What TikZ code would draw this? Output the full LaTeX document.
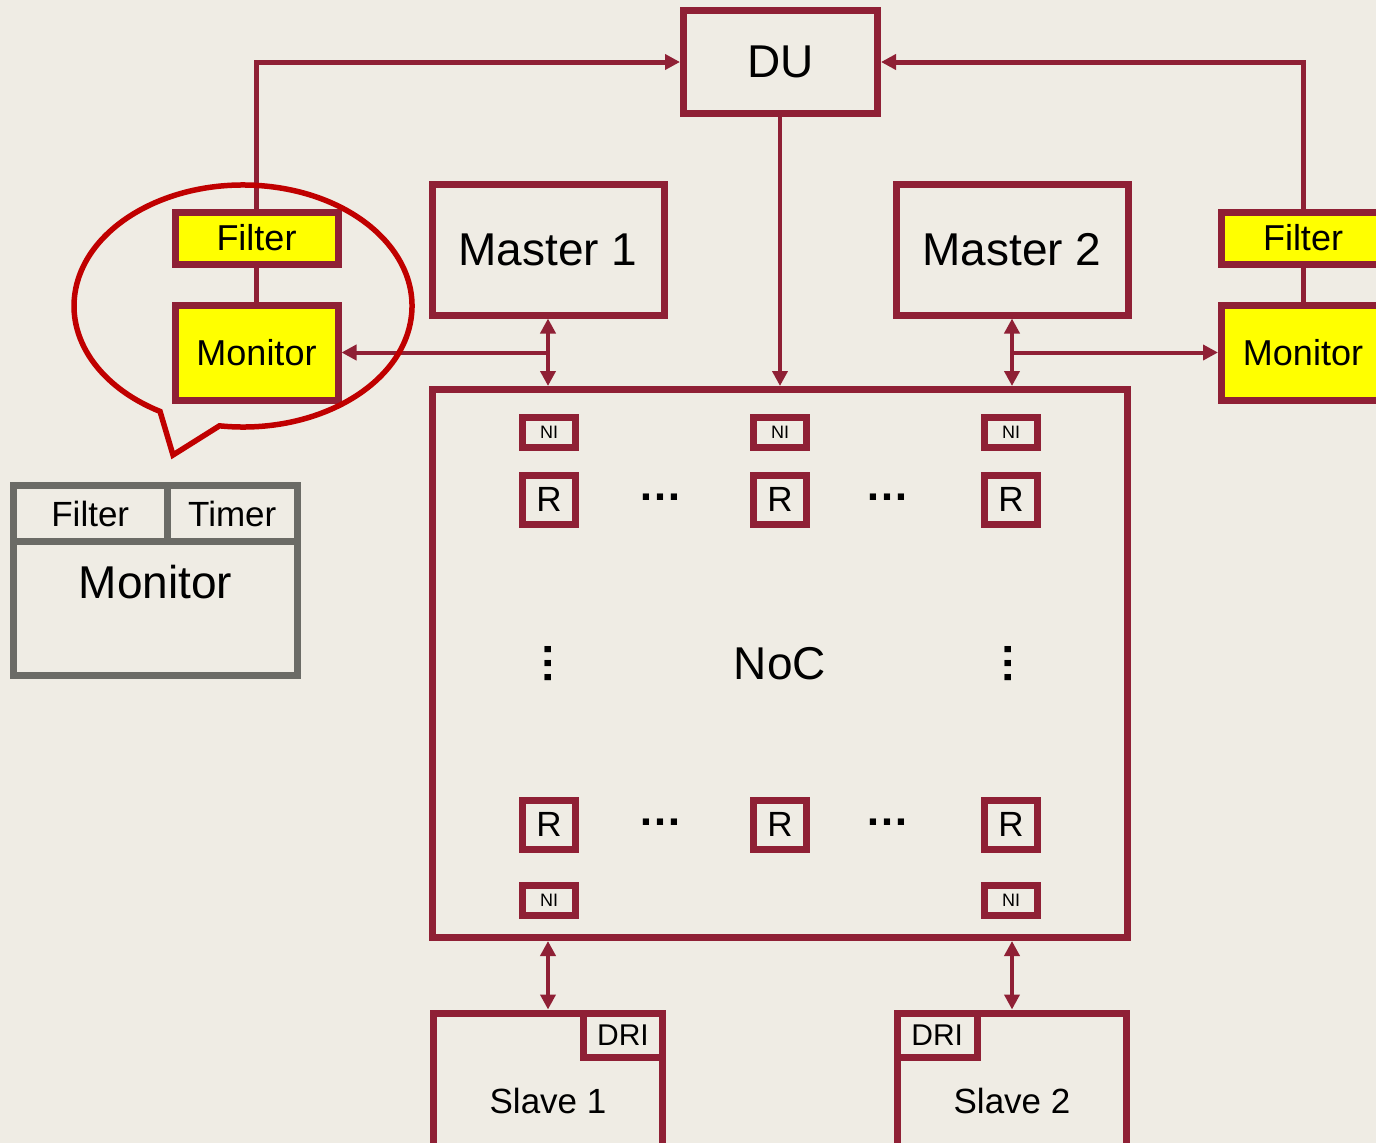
\documentclass[tikz,border=0pt]{standalone}
\usepackage{fontspec}
\setmainfont{Liberation Sans}
\usetikzlibrary{arrows.meta,calc}
\definecolor{bg}{HTML}{EFECE4}
\definecolor{wine}{HTML}{8F2035}
\definecolor{callred}{HTML}{C00000}
\definecolor{slate}{HTML}{6B6B66}
\definecolor{hl}{HTML}{FFFF00}
\newcommand\fsz[1]{\fontsize{#1}{#1}\selectfont}
\begin{document}
\begin{tikzpicture}[x=1pt,y=-1pt,
  box/.style={draw=wine, line width=7pt, rectangle, inner sep=0pt, text=black},
  hlbox/.style={box, fill=hl},
  gbox/.style={draw=slate, line width=7pt, rectangle, inner sep=0pt, text=black},
  conn/.style={draw=wine, line width=4pt},
  route/.style={draw=wine, line width=5pt},
  tip/.style={-{Triangle[length=15pt,width=15pt]}},
  dtip/.style={{Triangle[length=15pt,width=15pt]}-{Triangle[length=15pt,width=15pt]}},
  dots/.style={font=\fsz{44}\bfseries, inner sep=0pt, anchor=base}]
\useasboundingbox (0,0) rectangle (1376,1143);
\fill[bg] (0,0) rectangle (1376,1143);
\clip (0,0) rectangle (1376,1143);

% main blocks
\node[box, minimum width=194pt, minimum height=103pt, font=\fsz{46}] (du) at (780.5,62) {DU};
\node[box, minimum width=232pt, minimum height=131pt, font=\fsz{46}] (m1) at (548,249.5) {Master 1};
\node[box, minimum width=232pt, minimum height=131pt, font=\fsz{46}] (m2) at (1012,249.5) {Master 2};
\node[box, minimum width=695pt, minimum height=548pt, font=\fsz{46}] (noc) at (780,663.5) {NoC};

% slaves with their DRI blocks
\node[box, minimum width=229pt, minimum height=176pt, font=\fsz{35}] (s1) at (548,1101) {Slave 1};
\node[box, minimum width=229pt, minimum height=176pt, font=\fsz{35}] (s2) at (1012,1101) {Slave 2};
\node[box, minimum width=79pt, minimum height=44.5pt, font=\fsz{30}] (dri1) at (623,1035.25) {DRI};
\node[box, minimum width=79.5pt, minimum height=44.5pt, font=\fsz{30}] (dri2) at (937.25,1035.25) {DRI};

% filters and monitors
\node[hlbox, minimum width=163pt, minimum height=52pt, font=\fsz{36}] (lfil) at (256.5,238) {Filter};
\node[hlbox, minimum width=163pt, minimum height=95pt, font=\fsz{36}] (lmon) at (256.5,352.5) {Monitor};
\node[hlbox, minimum width=163pt, minimum height=52pt, font=\fsz{36}] (rfil) at (1303,238) {Filter};
\node[hlbox, minimum width=163pt, minimum height=95pt, font=\fsz{36}] (rmon) at (1303,352.5) {Monitor};

% routers and network interfaces inside the NoC
\foreach \n/\x in {a/549, b/780, c/1011} {
  \node[box, minimum width=53pt, minimum height=30pt, font=\fsz{18}] (ni\n) at (\x,432.5) {NI};
  \node[box, minimum width=53pt, minimum height=49pt, font=\fsz{35}] (rt\n) at (\x,499.5) {R};
  \node[box, minimum width=53pt, minimum height=49pt, font=\fsz{35}] (rb\n) at (\x,824.5) {R};
}
\node[box, minimum width=53pt, minimum height=30pt, font=\fsz{18}] (nbla) at (549,900.5) {NI};
\node[box, minimum width=53pt, minimum height=30pt, font=\fsz{18}] (nblc) at (1011,900.5) {NI};

\node[dots] (hd1) at (660,500) {…};
\node[dots] (hd2) at (887,500) {…};
\node[dots] (hd3) at (660,825) {…};
\node[dots] (hd4) at (887,825) {…};
\node[dots, rotate=90] (vd1) at (551,663) {…};
\node[dots, rotate=90] (vd2) at (1011,663) {…};

% connectors
\draw[route, tip] (lfil.north) |- (du.west);
\draw[route, tip] (rfil.north) |- (du.east);
\draw[route] (lfil.south) -- (lmon.north);
\draw[route] (rfil.south) -- (rmon.north);
\draw[conn, tip] (du.south -| noc.north) -- (noc.north);
\draw[conn, dtip] (m1.south) -- (m1.south |- noc.north);
\draw[conn, dtip] (m2.south) -- (m2.south |- noc.north);
\coordinate (j1) at (m1.south |- lmon.east);
\coordinate (j2) at (m2.south |- rmon.west);
\draw[conn, tip] (j1) -- (lmon.east);
\draw[conn, tip] (j2) -- (rmon.west);
\draw[conn, dtip] (s1.north |- noc.south) -- (s1.north);
\draw[conn, dtip] (s2.north |- noc.south) -- (s2.north);

% speech bubble around the left filter/monitor pair
\coordinate (cc) at (243,306);
\coordinate (ctip) at (173,455);
\draw[callred, line width=5.5pt, line join=miter]
  ($(cc)+(240.6:169pt and 121pt)$) -- (ctip) -- ($(cc)+(262:169pt and 121pt)$)
  arc[start angle=262, end angle=600.6, x radius=169pt, y radius=121pt] -- cycle;

% detail of a monitor block
\node[gbox, minimum width=284pt, minimum height=134pt] (gmon) at (155.5,608.5) {};
\node[gbox, minimum width=153.5pt, minimum height=56pt, font=\fsz{35}] (gfil) at (90.25,513.5) {Filter};
\node[gbox, minimum width=130.5pt, minimum height=56pt, font=\fsz{35}] (gtim) at (232.25,513.5) {Timer};
\node[font=\fsz{46}, inner sep=0pt] (gmontxt) at (155.5,582) {Monitor};
\end{tikzpicture}
\end{document}
